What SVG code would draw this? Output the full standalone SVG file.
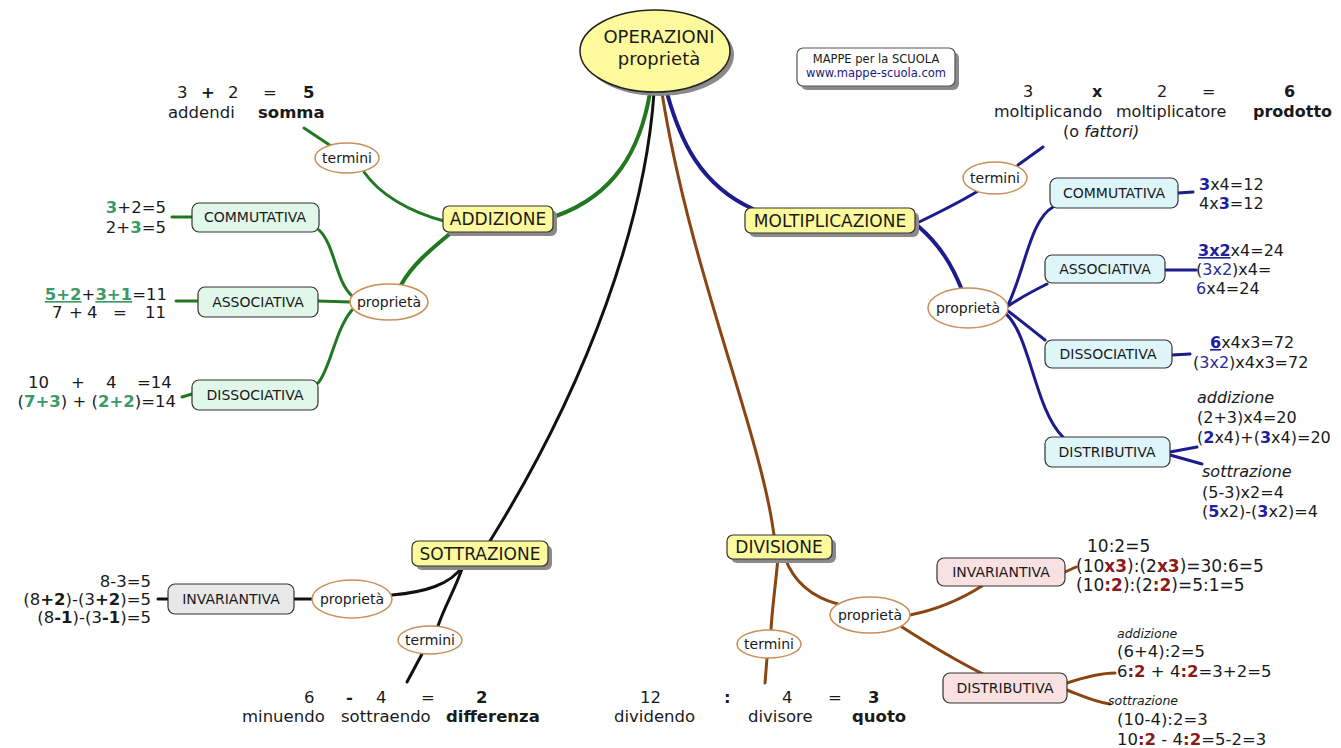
<svg xmlns="http://www.w3.org/2000/svg" width="1341" height="748" viewBox="0 0 1341 748">
<style>
text{font-family:"DejaVu Sans","Liberation Sans",sans-serif;fill:#1a1a1a}
.eq{font-size:16.5px}
.eqs{font-size:16px}
.eql{font-size:17px}
.lbl{font-size:14px;text-anchor:middle}
.ylbl{font-size:17px;text-anchor:middle}
.el{font-size:14px;text-anchor:middle}
.b{font-weight:bold}
.it{font-style:italic}
.gb{font-weight:bold;fill:#3a9a68}
.bb{font-weight:bold;fill:#1e1ea0}
.bn{fill:#2a2a9a}
.rb{font-weight:bold;fill:#8b1a1a}
.u{text-decoration:underline}
.shadow{fill:#8a8a8a}
.ybox{fill:#fcfa9c;stroke:#333;stroke-width:1.2}
.gbox{fill:#e0f7ea;stroke:#333;stroke-width:1.2}
.cbox{fill:#def5fa;stroke:#333;stroke-width:1.2}
.pbox{fill:#f9e1e1;stroke:#333;stroke-width:1.2}
.kbox{fill:#e8e8e8;stroke:#333;stroke-width:1.2}
.oval{fill:#fff;stroke:#c98f58;stroke-width:1.5}
.c{fill:none;stroke-linecap:round}
.g{stroke:#217821}
.bl{stroke:#1c1c8c}
.k{stroke:#111}
.br{stroke:#8b4513}
.w4{stroke-width:4}
.w3{stroke-width:3}
</style>

<g id="connectors">
  <!-- green -->
  <path class="c g w4" d="M 650 93 C 640 150, 615 195, 556 216"/>
  <path class="c g w4" d="M 452 232 C 430 250, 412 265, 401 285"/>
  <path class="c g w3" d="M 444 221 C 410 212, 380 195, 364 172"/>
  <path class="c g w3" d="M 331 146 L 304 128"/>
  <path class="c g w3" d="M 352 296 C 335 280, 335 245, 319 230"/>
  <path class="c g w3" d="M 350 302 L 318 301"/>
  <path class="c g w3" d="M 352 310 C 335 330, 330 370, 318 383"/>
  <path class="c g w3" d="M 192 217 L 172 217"/>
  <path class="c g w3" d="M 198 301 L 176 301"/>
  <path class="c g w3" d="M 192 394 L 182 397"/>
  <!-- blue -->
  <path class="c bl w4" d="M 667 93 C 680 140, 700 185, 753 209"/>
  <path class="c bl w3" d="M 915 224 C 940 212, 960 202, 978 191"/>
  <path class="c bl w3" d="M 1018 165 L 1043 147"/>
  <path class="c bl w4" d="M 918 226 C 940 245, 952 265, 962 290"/>
  <path class="c bl w3" d="M 1008 305 C 1025 270, 1030 220, 1053 207"/>
  <path class="c bl w3" d="M 1008 306 C 1020 298, 1035 290, 1047 284"/>
  <path class="c bl w3" d="M 1008 311 C 1020 320, 1035 332, 1045 340"/>
  <path class="c bl w3" d="M 1006 314 C 1030 335, 1035 410, 1063 437"/>
  <path class="c bl w3" d="M 1178 193 L 1193 192"/>
  <path class="c bl w3" d="M 1165 270 L 1196 270"/>
  <path class="c bl w3" d="M 1172 355 L 1190 354"/>
  <path class="c bl w3" d="M 1170 452 L 1197 447"/>
  <path class="c bl w3" d="M 1170 455 L 1202 464"/>
  <!-- black -->
  <path class="c k w3" d="M 654 93 C 645 220, 590 380, 490 541"/>
  <path class="c k w3" d="M 463 566 C 450 585, 425 592, 392 595"/>
  <path class="c k w3" d="M 463 566 C 455 590, 445 605, 438 626"/>
  <path class="c k w3" d="M 312 599 L 294 599"/>
  <path class="c k w3" d="M 168 599 L 158 599"/>
  <path class="c k w3" d="M 422 654 L 407 682"/>
  <!-- brown -->
  <path class="c br w3" d="M 662 93 C 690 270, 760 430, 774 535"/>
  <path class="c br w3" d="M 778 558 C 775 590, 772 610, 771 630"/>
  <path class="c br w3" d="M 785 558 C 795 585, 815 598, 838 604"/>
  <path class="c br w3" d="M 767 658 L 765 683"/>
  <path class="c br w3" d="M 910 615 C 935 610, 960 600, 982 586"/>
  <path class="c br w3" d="M 902 627 C 930 645, 955 660, 983 674"/>
  <path class="c br w3" d="M 1065 572 L 1076 567"/>
  <path class="c br w3" d="M 1067 683 C 1085 677, 1100 673, 1115 673"/>
  <path class="c br w3" d="M 1067 690 C 1085 697, 1095 702, 1110 704"/>
</g>

<g id="title">
  <ellipse class="shadow" cx="659" cy="55" rx="75" ry="41"/>
  <ellipse cx="655" cy="51" rx="75" ry="41" fill="#fcfa9c" stroke="#222" stroke-width="1.5"/>
  <text x="659" y="43" font-size="18" text-anchor="middle">OPERAZIONI</text>
  <text x="659" y="65" font-size="18" text-anchor="middle">proprietà</text>
</g>

<g id="credits">
  <rect class="shadow" x="801" y="52" width="158" height="38" rx="6"/>
  <rect x="797" y="48" width="158" height="38" rx="6" fill="#fff" stroke="#555" stroke-width="1.2"/>
  <text x="876" y="63" font-size="11.5" text-anchor="middle">MAPPE per la SCUOLA</text>
  <text x="876" y="77" font-size="11.5" text-anchor="middle" style="fill:#1a1a80">www.mappe-scuola.com</text>
</g>

<!-- ADDIZIONE -->
<g id="addizione">
  <rect class="shadow" x="447" y="210" width="110" height="26" rx="6"/>
  <rect class="ybox" x="443" y="206" width="110" height="26" rx="6"/>
  <text class="ylbl" x="498" y="225">ADDIZIONE</text>
</g>
<g id="add-termini">
  <ellipse class="oval" cx="347" cy="158" rx="32" ry="15"/>
  <text class="el" x="347" y="163">termini</text>
  <text class="eq" y="98"><tspan x="177">3</tspan><tspan x="201" class="b">+</tspan><tspan x="228">2</tspan><tspan x="263">=</tspan><tspan x="303" class="b">5</tspan></text>
  <text class="eq" y="118"><tspan x="168">addendi</tspan><tspan x="258" class="b">somma</tspan></text>
</g>
<g id="add-proprieta">
  <ellipse class="oval" cx="389" cy="302" rx="39" ry="18"/>
  <text class="el" x="389" y="307">proprietà</text>
</g>
<g id="add-commutativa">
  <rect class="gbox" x="192" y="203" width="127" height="29" rx="7"/>
  <text class="lbl" x="255" y="222">COMMUTATIVA</text>
  <text class="eq" x="166" y="213" text-anchor="end"><tspan class="gb">3</tspan>+2=5</text>
  <text class="eq" x="166" y="233" text-anchor="end">2+<tspan class="gb">3</tspan>=5</text>
</g>
<g id="add-associativa">
  <rect class="gbox" x="198" y="287" width="120" height="30" rx="7"/>
  <text class="lbl" x="258" y="307">ASSOCIATIVA</text>
  <text class="eq" x="167" y="300" text-anchor="end"><tspan class="gb u">5+2</tspan>+<tspan class="gb u">3+1</tspan>=11</text>
  <text class="eq" y="318"><tspan x="52">7</tspan><tspan x="69">+</tspan><tspan x="87">4</tspan><tspan x="113">=</tspan><tspan x="145">11</tspan></text>
</g>
<g id="add-dissociativa">
  <rect class="gbox" x="192" y="380" width="126" height="30" rx="7"/>
  <text class="lbl" x="255" y="400">DISSOCIATIVA</text>
  <text class="eq" y="388"><tspan x="28">10</tspan><tspan x="71">+</tspan><tspan x="106">4</tspan><tspan x="137">=14</tspan></text>
  <text class="eq" x="176" y="407" text-anchor="end" xml:space="preserve">(<tspan class="gb">7+3</tspan>) + (<tspan class="gb">2+2</tspan>)=14</text>
</g>

<!-- MOLTIPLICAZIONE -->
<g id="moltiplicazione">
  <rect class="shadow" x="749" y="212" width="170" height="25" rx="6"/>
  <rect class="ybox" x="745" y="208" width="170" height="25" rx="6"/>
  <text class="ylbl" x="830" y="227">MOLTIPLICAZIONE</text>
</g>
<g id="molt-termini">
  <ellipse class="oval" cx="995" cy="178" rx="32" ry="16"/>
  <text class="el" x="995" y="183">termini</text>
  <text class="eqs" y="97"><tspan x="1023">3</tspan><tspan x="1092" class="b">x</tspan><tspan x="1157">2</tspan><tspan x="1202">=</tspan><tspan x="1284" class="b">6</tspan></text>
  <text class="eqs" y="117"><tspan x="994">moltiplicando</tspan><tspan x="1116">moltiplicatore</tspan><tspan x="1253" class="b">prodotto</tspan></text>
  <text class="eqs" x="1063" y="137">(o <tspan class="it">fattori)</tspan></text>
</g>
<g id="molt-proprieta">
  <ellipse class="oval" cx="968" cy="308" rx="40" ry="20"/>
  <text class="el" x="968" y="313">proprietà</text>
</g>
<g id="molt-commutativa">
  <rect class="cbox" x="1050" y="178" width="128" height="30" rx="7"/>
  <text class="lbl" x="1114" y="198">COMMUTATIVA</text>
  <text class="eqs" x="1199" y="190"><tspan class="bb">3</tspan>x4=12</text>
  <text class="eqs" x="1199" y="209">4x<tspan class="bb">3</tspan>=12</text>
</g>
<g id="molt-associativa">
  <rect class="cbox" x="1045" y="255" width="120" height="28" rx="7"/>
  <text class="lbl" x="1105" y="274">ASSOCIATIVA</text>
  <text class="eqs" x="1198" y="256"><tspan class="bb u">3x2</tspan>x4=24</text>
  <text class="eqs" x="1196" y="275">(<tspan class="bn">3x2</tspan>)x4=</text>
  <text class="eqs" x="1196" y="294"><tspan class="bn">6</tspan>x4=24</text>
</g>
<g id="molt-dissociativa">
  <rect class="cbox" x="1045" y="340" width="127" height="28" rx="7"/>
  <text class="lbl" x="1108" y="359">DISSOCIATIVA</text>
  <text class="eqs" x="1210" y="348"><tspan class="bb u">6</tspan>x4x3=72</text>
  <text class="eqs" x="1193" y="368">(<tspan class="bn">3x2</tspan>)x4x3=72</text>
</g>
<g id="molt-distributiva">
  <rect class="cbox" x="1045" y="437" width="125" height="30" rx="7"/>
  <text class="lbl" x="1107" y="457">DISTRIBUTIVA</text>
  <text class="eqs it" x="1197" y="403">addizione</text>
  <text class="eqs" x="1197" y="423">(2+3)x4=20</text>
  <text class="eqs" x="1197" y="443">(<tspan class="bb">2</tspan>x4)+(<tspan class="bb">3</tspan>x4)=20</text>
  <text class="eqs it" x="1202" y="477">sottrazione</text>
  <text class="eqs" x="1202" y="498">(5-3)x2=4</text>
  <text class="eqs" x="1202" y="517">(<tspan class="bb">5</tspan>x2)-(<tspan class="bb">3</tspan>x2)=4</text>
</g>

<!-- SOTTRAZIONE -->
<g id="sottrazione">
  <rect class="shadow" x="416" y="545" width="136" height="25" rx="6"/>
  <rect class="ybox" x="412" y="541" width="136" height="25" rx="6"/>
  <text class="ylbl" x="480" y="560">SOTTRAZIONE</text>
</g>
<g id="sott-proprieta">
  <ellipse class="oval" cx="352" cy="599" rx="40" ry="19"/>
  <text class="el" x="352" y="604">proprietà</text>
</g>
<g id="sott-invariantiva">
  <rect class="kbox" x="168" y="584" width="126" height="30" rx="7"/>
  <text class="lbl" x="231" y="604">INVARIANTIVA</text>
  <text class="eq" x="151" y="587" text-anchor="end">8-3=5</text>
  <text class="eq" x="151" y="605" text-anchor="end">(8<tspan class="b">+2</tspan>)-(3<tspan class="b">+2</tspan>)=5</text>
  <text class="eq" x="151" y="623" text-anchor="end">(8<tspan class="b">-1</tspan>)-(3<tspan class="b">-1</tspan>)=5</text>
</g>
<g id="sott-termini">
  <ellipse class="oval" cx="430" cy="640" rx="32" ry="14"/>
  <text class="el" x="430" y="645">termini</text>
  <text class="eq" y="703"><tspan x="304">6</tspan><tspan x="346" class="b">-</tspan><tspan x="376">4</tspan><tspan x="421">=</tspan><tspan x="476" class="b">2</tspan></text>
  <text class="eq" y="722"><tspan x="242">minuendo</tspan><tspan x="341">sottraendo</tspan><tspan x="446" class="b">differenza</tspan></text>
</g>

<!-- DIVISIONE -->
<g id="divisione">
  <rect class="shadow" x="731" y="539" width="105" height="24" rx="6"/>
  <rect class="ybox" x="727" y="535" width="105" height="24" rx="6"/>
  <text class="ylbl" x="779" y="553">DIVISIONE</text>
</g>
<g id="div-termini">
  <ellipse class="oval" cx="769" cy="644" rx="32" ry="14"/>
  <text class="el" x="769" y="649">termini</text>
  <text class="eq" y="703"><tspan x="640">12</tspan><tspan x="724" class="b">:</tspan><tspan x="782">4</tspan><tspan x="828">=</tspan><tspan x="868" class="b">3</tspan></text>
  <text class="eq" y="722"><tspan x="614">dividendo</tspan><tspan x="748">divisore</tspan><tspan x="852" class="b">quoto</tspan></text>
</g>
<g id="div-proprieta">
  <ellipse class="oval" cx="870" cy="615" rx="40" ry="18"/>
  <text class="el" x="870" y="620">proprietà</text>
</g>
<g id="div-invariantiva">
  <rect class="pbox" x="937" y="558" width="128" height="28" rx="7"/>
  <text class="lbl" x="1001" y="577">INVARIANTIVA</text>
  <text class="eql" x="1087" y="552">10:2=5</text>
  <text class="eql" x="1076" y="572">(10<tspan class="rb">x3</tspan>):(2<tspan class="rb">x3</tspan>)=30:6=5</text>
  <text class="eql" x="1076" y="591">(10<tspan class="rb">:2</tspan>):(2<tspan class="rb">:2</tspan>)=5:1=5</text>
</g>
<g id="div-distributiva">
  <rect class="pbox" x="943" y="673" width="124" height="30" rx="7"/>
  <text class="lbl" x="1005" y="693">DISTRIBUTIVA</text>
  <text class="it" font-size="12.5" x="1117" y="638">addizione</text>
  <text class="eq" x="1117" y="657">(6+4):2=5</text>
  <text class="eq" x="1117" y="677" xml:space="preserve">6<tspan class="rb">:2</tspan> + 4<tspan class="rb">:2</tspan>=3+2=5</text>
  <text class="it" font-size="12.5" x="1108" y="705">sottrazione</text>
  <text class="eq" x="1117" y="725">(10-4):2=3</text>
  <text class="eq" x="1117" y="745" xml:space="preserve">10<tspan class="rb">:2</tspan> - 4<tspan class="rb">:2</tspan>=5-2=3</text>
</g>
</svg>
